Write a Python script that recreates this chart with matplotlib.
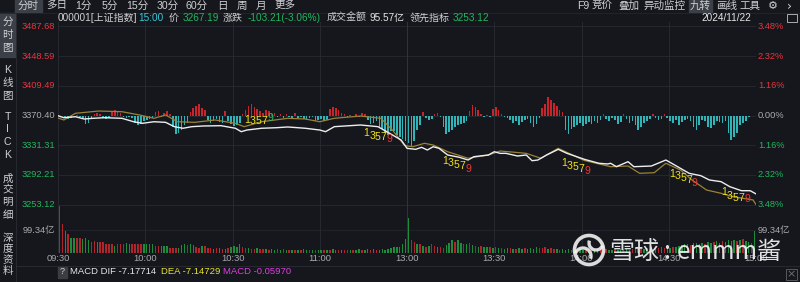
import numpy as np
import matplotlib
matplotlib.use('Agg')
import matplotlib.pyplot as plt
from matplotlib.patches import Rectangle, Circle, Arc

plt.rcParams['font.family'] = ['Liberation Sans', 'Noto Sans CJK SC', 'DejaVu Sans']

# ---------------- data ----------------
prev_close = 3370.40
price_levels = [3487.68, 3448.59, 3409.49, 3370.40, 3331.31, 3292.21, 3253.12]
pct_labels = ['3.48%', '2.32%', '1.16%', '0.00%', '1.16%', '2.32%', '3.48%']
time_ticks = [0, 30, 60, 90, 120, 150, 180, 210, 240]
time_labels = ['09:30', '10:00', '10:30', '11:00', '13:00', '13:30', '14:00', '14:30', '15:00']

price_min = [0, 2, 6, 9, 12, 16, 22, 26, 29, 33,
             37, 40, 43, 46, 50, 56, 61, 63, 65, 70,
             75, 79, 85, 90, 92, 95, 104, 110, 114, 118,
             120, 123, 125, 127, 129, 131, 134, 138, 141, 143,
             148, 150, 152, 154, 158, 161, 163, 165, 167, 168,
             172, 175, 181, 186, 189, 190, 192, 196, 198, 204,
             209, 211, 217, 221, 224, 228, 231, 235, 238, 240]
price_val = [3370.1, 3367.5, 3368.8, 3365.8, 3366.7, 3367.5, 3366.7, 3362.2, 3360.1, 3362.2,
             3361.4, 3355.7, 3353.6, 3355.7, 3356.6, 3357.0, 3353.6, 3349.1, 3351.3, 3353.6,
             3354.3, 3355.3, 3353.6, 3351.3, 3349.1, 3355.7, 3357.9, 3355.7, 3347.0, 3338.1,
             3327.2, 3325.9, 3328.5, 3325.0, 3329.3, 3327.2, 3318.4, 3315.4, 3311.8, 3316.2,
             3318.4, 3322.7, 3320.6, 3320.6, 3317.1, 3318.4, 3310.9, 3311.8, 3316.2, 3318.4,
             3325.9, 3320.6, 3312.7, 3307.5, 3306.6, 3307.5, 3303.0, 3309.6, 3303.0, 3303.9,
             3311.8, 3307.5, 3294.3, 3291.2, 3285.5, 3283.3, 3276.7, 3271.4, 3271.4, 3267.19]

lead_min = [0, 2, 6, 14, 22, 28, 33, 37, 41, 47,
            54, 61, 64, 70, 79, 85, 90, 95, 104, 111,
            115, 119, 120, 122, 126, 129, 134, 141, 148, 152,
            161, 166, 172, 181, 190, 196, 200, 205, 209, 214,
            218, 223, 228, 232, 239, 240]
lead_val = [3367.1, 3364.5, 3373.3, 3376.3, 3375.4, 3371.1, 3366.7, 3371.1, 3362.2, 3361.4,
            3364.5, 3360.1, 3355.7, 3362.2, 3366.7, 3365.8, 3362.2, 3366.7, 3369.7, 3366.7,
            3351.3, 3331.6, 3330.3, 3329.3, 3333.8, 3331.6, 3322.7, 3314.1, 3318.4, 3323.7,
            3320.6, 3314.1, 3327.2, 3311.2, 3303.0, 3303.9, 3294.3, 3295.1, 3307.5, 3298.7,
            3285.5, 3272.3, 3268.0, 3263.5, 3259.2, 3253.12]

# red / green strength bars around the previous-close line (one per minute)
strength = [0, -1, -2, -4, -3, -1, 1, -2, -3, -9,
            -8, -4, 2, 3, 2, -3, -4, -3, 4, 6,
            5, 3, -2, -3, -2, -3, -8, -10, -9, -6,
            -5, -4, -3, 4, 5, -2, 3, 5, 2, -12,
            -19, -18, -15, -10, -8, 4, 8, 10, 12, 8,
            6, -5, -8, -6, -4, -7, -8, 5, -6, -9,
            -11, -10, -8, 2, 6, 10, 12, 9, 7, 5,
            3, 6, 5, 2, 3, -2, 2, -3, 2, -2,
            -3, 3, -3, -2, -4, -5, -3, -2, -6, -5,
            -4, -6, -5, 7, 9, 8, 6, 3, 2, -2,
            1, -1, 2, -2, 3, 2, -5, -9, -8, -6,
            -12, -14, -18, -20, -16, -16, -20, -22, -24, -26,
            -28, -32, -26, -15, -10, 4, -3, -5, -4, 2,
            3, -2, -12, -19, -17, -15, -12, -10, -9, -8,
            -6, 5, 11, 9, 6, 2, -2, 1, -2, 7,
            9, 6, 2, -2, -3, -5, -8, -6, -10, -7,
            -5, -4, -8, -12, -9, -3, 8, 12, 19, 16,
            13, 10, 6, 4, -15, -19, -14, -12, -10, -8,
            -11, -9, -7, -9, -6, -8, -5, 2, -4, -6,
            -3, -5, -9, -7, 2, -4, -8, -6, -10, -15,
            -12, -8, -6, -4, 2, -3, -5, -4, 2, -3,
            -6, -8, -5, -10, -7, -5, -4, -6, -12, -15,
            -10, -5, -6, -12, -13, -10, -6, -7, -8, -6,
            -18, -25, -22, -18, -10, -8, -6, -2, -1, -1]
strength_unit = 1.316  # index points per strength unit

# per-minute turnover, 亿
volume = [205, 124, 95, 81, 63, 63, 66, 66, 60, 63,
          56, 49, 53, 49, 46, 46, 40, 40, 37, 32,
          40, 40, 40, 43, 40, 37, 37, 37, 37, 37,
          37, 37, 37, 29, 30, 32, 30, 30, 23, 23,
          22, 23, 35, 37, 33, 37, 33, 26, 22, 29,
          29, 22, 20, 17, 20, 22, 18, 16, 20, 24,
          32, 28, 37, 26, 22, 20, 18, 16, 20, 17,
          18, 16, 14, 17, 15, 18, 13, 16, 14, 15,
          14, 12, 15, 13, 16, 14, 12, 15, 13, 14,
          15, 13, 14, 12, 16, 14, 13, 15, 12, 14,
          13, 15, 14, 16, 13, 15, 17, 14, 16, 15,
          14, 16, 15, 18, 20, 24, 26, 28, 40, 60,
          150, 56, 49, 37, 40, 30, 24, 30, 40, 30,
          27, 25, 22, 35, 43, 58, 49, 58, 45, 40,
          38, 42, 35, 30, 28, 32, 26, 24, 28, 22,
          24, 20, 22, 18, 20, 22, 19, 17, 20, 18,
          20, 18, 22, 19, 24, 20, 22, 26, 18, 20,
          16, 18, 15, 17, 14, 16, 15, 18, 14, 16,
          15, 17, 14, 16, 15, 18, 20, 16, 17, 15,
          14, 16, 15, 17, 18, 16, 15, 18, 20, 17,
          16, 18, 20, 17, 19, 22, 20, 24, 22, 20,
          22, 25, 28, 30, 35, 38, 40, 36, 42, 45,
          40, 44, 38, 46, 42, 48, 50, 45, 52, 48,
          55, 50, 58, 52, 55, 60, 50, 48, 45, 95.57]
vol_dir = ("rrgrggrrgg" "grrgrrrrrg" "rrrggrrrrg" "gggrrgggrr" "rgggrggrrg"
           "rrrgrgrgrg" "gggrrgrrgr" "rgrggrgrgr" "grgrggrgrg" "grgrggrgrr"
           "grggrggrgr" "gggggggggg" "grrgrgrgrr" "grrgggrggr" "grgrgrggrg"
           "rgrggrgrgg" "rggggrrrgr" "rgrgggrgrg" "grgrggrgrg" "grggrggrgg"
           "rggrggrgrg" "grgggggrgg" "ggrggrggrg" "gggrgrggrg")
vol_label = 99.34

# "九转" counts: start minute, digit levels, colour of the 9
nine_digits = ['1', '3', '5', '7', '9']
nine_start = [65, 106, 133, 174, 211, 229]
nine_prices = [[3364.5, 3363.6, 3363.6, 3363.6, 3367.5],
               [3347.0, 3343.4, 3342.5, 3341.7, 3339.5],
               [3310.5, 3307.5, 3305.2, 3303.9, 3300.0],
               [3308.3, 3303.9, 3302.2, 3299.6, 3297.7],
               [3293.4, 3290.8, 3288.1, 3285.5, 3281.1],
               [3270.1, 3264.4, 3261.4, 3261.4, 3260.5]]
nine_last = ['green', 'red', 'red', 'red', 'red', 'red']

# ---------------- style ----------------
W, H = 800, 282
BG = '#15171d'
GRID = '#262930'
RED = '#e8353d'
GREEN = '#22b65e'
GREY = '#a9abae'
TXT = '#cfd0d2'
CYAN = '#2fb4b7'
BARRED = '#c8242c'
VRED = '#b0252c'
VGREEN = '#1f8c3c'
YEL = '#f2e21e'
COL9 = {'green': '#22c060', 'red': '#ee3535'}

fig = plt.figure(figsize=(W / 100, H / 100), dpi=100, facecolor=BG)

def fx(x):
    return x / W

def fy(y):
    return 1 - y / H

L, R = 58, 756
P_TOP, P_BOT = 22, 207
Y_FIRST, Y_LAST = 26.4, 204.6
V_TOP, V_BOT = 204.6, 253
k = (price_levels[0] - price_levels[-1]) / (Y_LAST - Y_FIRST)

# price panel
ax = fig.add_axes([fx(L), fy(P_BOT), (R - L) / W, (P_BOT - P_TOP) / H])
ax.set_facecolor('none')
ax.set_xlim(0, 240)
ax.set_ylim(price_levels[-1] - (P_BOT - Y_LAST) * k, price_levels[0] + (Y_FIRST - P_TOP) * k)
for s in ax.spines.values():
    s.set_visible(False)
ax.set_xticks([])
ax.set_yticks([])
for lvl in price_levels:
    ax.axhline(lvl, color=GRID, lw=0.6, zorder=0)
for t in time_ticks:
    ax.axvline(t, color=GRID if t != 120 else '#30343c', lw=0.7, zorder=0)

lab_cols = [RED, RED, RED, GREY, GREEN, GREEN, GREEN]
tr = ax.get_yaxis_transform()
for lvl, pl, c in zip(price_levels, pct_labels, lab_cols):
    ax.text(-3 / (R - L), lvl, f'{lvl:.2f}', transform=tr, ha='right', va='center',
            color=c, fontsize=6.7)
    ax.text(1 + 2 / (R - L), lvl, pl, transform=tr, ha='left', va='center',
            color=c, fontsize=6.7)

xs = np.arange(240) + 0.5
sh = np.array(strength, dtype=float) * strength_unit
ax.bar(xs, sh, bottom=prev_close, width=0.55,
       color=[BARRED if v > 0 else CYAN for v in strength], zorder=2, linewidth=0)

ax.plot(lead_min, lead_val, color='#9a8236', lw=0.9, zorder=3)
ax.plot(price_min, price_val, color='#eeeeee', lw=1.0, zorder=4)

for s0, ps, c9 in zip(nine_start, nine_prices, nine_last):
    for j, (d, p) in enumerate(zip(nine_digits, ps)):
        ax.text(s0 + 2 * j, p, d, color=YEL if j < 4 else COL9[c9], fontsize=7.6,
                ha='center', va='center', zorder=5)

# volume panel
vmax = vol_label * (V_BOT - V_TOP) / 23.0
vax = fig.add_axes([fx(L), fy(V_BOT), (R - L) / W, (V_BOT - V_TOP) / H])
vax.set_facecolor('none')
vax.set_xlim(0, 240)
vax.set_ylim(0, vmax)
for s in vax.spines.values():
    s.set_visible(False)
vax.set_xticks([])
vax.set_yticks([])
for t in time_ticks:
    vax.axvline(t, color=GRID if t != 120 else '#30343c', lw=0.7, zorder=0)
vax.axhline(vol_label, color=GRID, lw=0.5, zorder=0)
vax.bar(xs, volume, width=0.5, color=[VRED if d == 'r' else VGREEN for d in vol_dir],
        linewidth=0, zorder=2)
vtr = vax.get_yaxis_transform()
vax.text(-3 / (R - L), vol_label, f'{vol_label:.2f}亿', transform=vtr, ha='right',
         va='center', color=GREY, fontsize=6.7)
vax.text(1 + 2 / (R - L), vol_label, f'{vol_label:.2f}亿', transform=vtr, ha='left',
         va='center', color=GREY, fontsize=6.7)
xtr = vax.get_xaxis_transform()
for t, lab in zip(time_ticks, time_labels):
    vax.text(t, -5.5 / (V_BOT - V_TOP), lab, transform=xtr, ha='center', va='center',
             color=GREY, fontsize=6.7)

# ---------------- overlay (chrome, texts, watermark) ----------------
ov = fig.add_axes([0, 0, 1, 1])
ov.set_xlim(0, W)
ov.set_ylim(H, 0)
ov.axis('off')
ov.set_facecolor('none')

# highlights
ov.add_patch(Rectangle((15, 0), 27, 12, color='#3b3f47', zorder=1))
ov.add_patch(Rectangle((689, 0), 23, 12, color='#3b3f47', zorder=1))
ov.add_patch(Rectangle((0, 13), 15, 44, color='#3b3f47', zorder=1))
ov.plot([16, 16], [13, 282], color='#2a2d34', lw=0.6)
ov.plot([0, 800], [12.5, 12.5], color='#23262c', lw=0.6)
ov.plot([16, 800], [266, 266], color='#2a2d34', lw=0.6)

toolbar_left = [('分时', 28), ('多日', 57), ('1分', 83), ('5分', 110), ('15分', 137),
                ('30分', 168), ('60分', 197), ('日', 222), ('周', 242), ('月', 261), ('更多', 285)]
toolbar_right = [('F9', 583), ('竞价', 602), ('叠加', 629), ('异动监控', 664), ('九转', 700),
                 ('画线', 727), ('工具', 750)]
for s, x in toolbar_left + toolbar_right:
    ov.text(x, 6, s, ha='center', va='center', color=TXT, fontsize=7.6, zorder=3)
ov.text(773, 6, '⚙', ha='center', va='center', color=TXT, fontsize=8,
        family='DejaVu Sans', zorder=3)
ov.text(789, 6, '›', ha='center', va='center', color=TXT, fontsize=9,
        family='DejaVu Sans', zorder=3)

side = [('分', 21.7), ('时', 35), ('图', 48.3), ('K', 70), ('线', 83.3), ('图', 95.5),
        ('T', 116.7), ('I', 129.3), ('C', 141.7), ('K', 155), ('成', 178.3), ('交', 190),
        ('明', 202.3), ('细', 215), ('深', 238.3), ('度', 249.5), ('资', 260), ('料', 270.5)]
for s, y in side:
    ov.text(7.5, y, s, ha='center', va='center', color=TXT, fontsize=7.6, zorder=3)

header = [('000001[上证指数]', 58, TXT), ('15:00', 138, '#38c6d6'), ('价', 168.5, TXT),
          ('3267.19', 183, GREEN), ('涨跌', 223, TXT), ('-103.21(-3.06%)', 248, GREEN),
          ('成交金额', 327, TXT), ('95.57亿', 370, '#e4e4e4'), ('领先指标', 410, TXT),
          ('3253.12', 453, GREEN), ('2024/11/22', 701, '#e4e4e4')]
for s, x, c in header:
    ov.text(x, 18, s, ha='left', va='center', color=c, fontsize=7.2, zorder=3)
# small monitor icon
ov.add_patch(Rectangle((787, 14), 10, 8, fill=False, ec=GREY, lw=0.7, zorder=3))

# MACD row
ov.add_patch(Rectangle((58, 266.5), 9, 11, color='#3a3d44', zorder=2))
ov.text(62.5, 272, '?', ha='center', va='center', color=TXT, fontsize=6.5, zorder=3)
ov.text(70, 272, 'MACD DIF -7.17714', ha='left', va='center', color='#e4e4e4',
        fontsize=6.8, zorder=3)
ov.text(161, 272, 'DEA -7.14729', ha='left', va='center', color='#e9e22e',
        fontsize=6.8, zorder=3)
ov.text(223, 272, 'MACD -0.05970', ha='left', va='center', color='#e23ce2',
        fontsize=6.8, zorder=3)
ov.add_patch(Rectangle((786, 269), 11, 11, fill=False, ec='#55585e', lw=0.7, zorder=3))
ov.text(791.5, 274.5, '×', ha='center', va='center', color='#6a6d72', fontsize=8,
        family='DejaVu Sans', zorder=3)

# watermark
WM = '#f2f2f2'
ov.add_patch(Circle((589, 250), 14.5, fill=False, ec=WM, lw=2.6, alpha=0.9, zorder=10))
ov.add_patch(Arc((583, 256), 16, 16, theta1=200, theta2=20, ec=WM, lw=2.4, alpha=0.9, zorder=10))
ov.add_patch(Arc((596, 243), 14, 14, theta1=20, theta2=200, ec=WM, lw=2.4, alpha=0.9, zorder=10))
ov.text(609, 252, '雪球', ha='left', va='center', color=WM, fontsize=18,
        family='Noto Sans CJK SC', alpha=0.92, zorder=10)
ov.text(667, 252, ':', ha='center', va='center', color=WM, fontsize=18,
        family='Noto Sans CJK SC', alpha=0.92, zorder=10)
ov.text(677, 252, 'emmm酱', ha='left', va='center', color=WM, fontsize=17.5,
        family=['Noto Sans CJK SC'], alpha=0.92, zorder=10)

fig.savefig('out.png', dpi=100, facecolor=BG)
